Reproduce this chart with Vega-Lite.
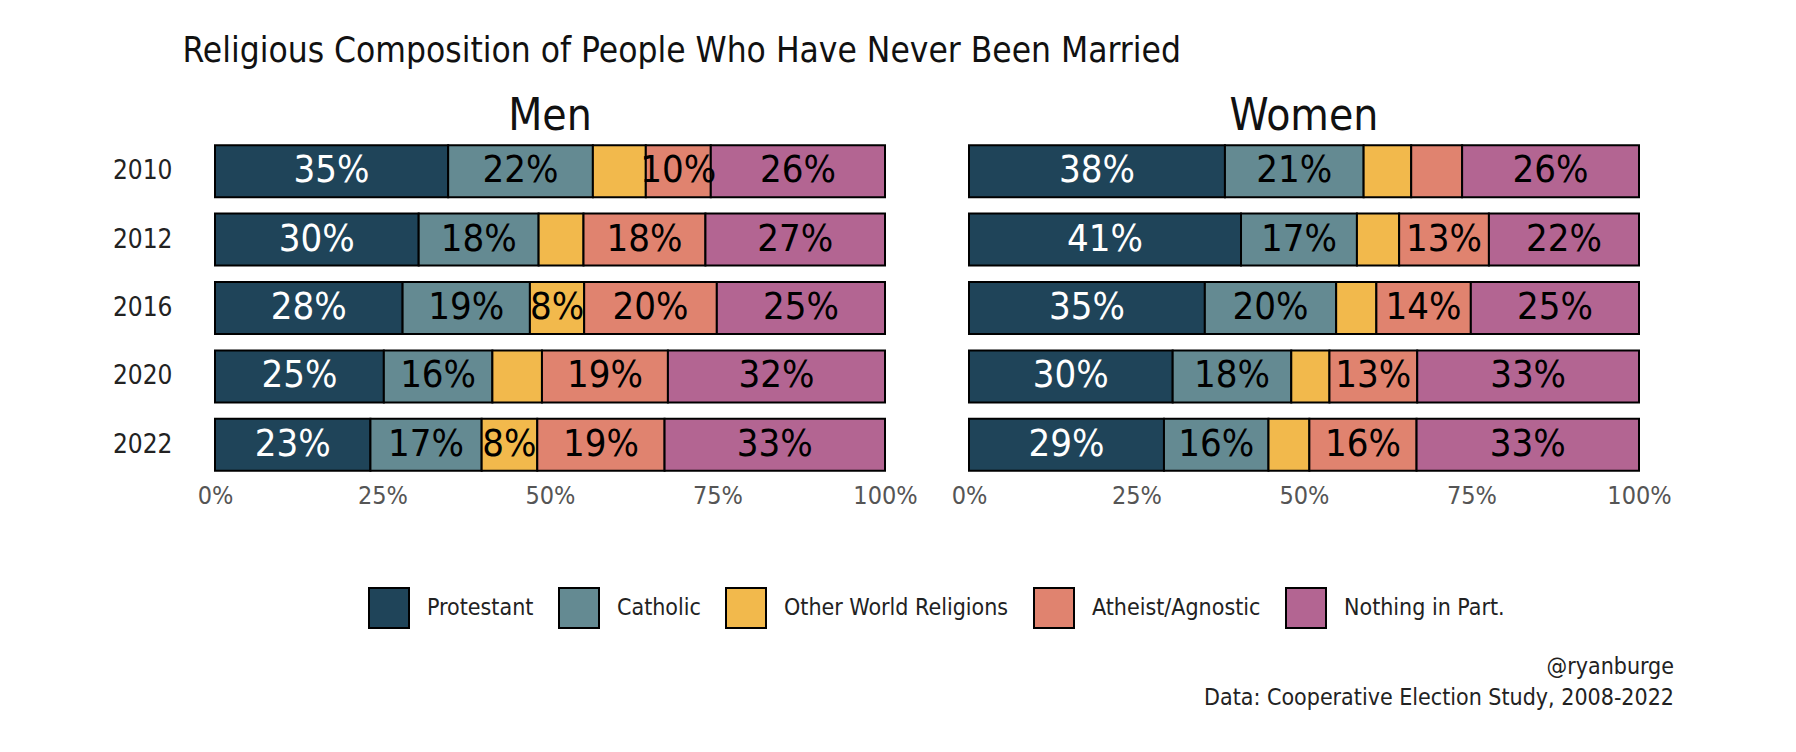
{
  "$schema": "https://vega.github.io/schema/vega-lite/v6.json",
  "background": "white",
  "padding": {"left": 112, "top": 34, "right": 10, "bottom": 10},
  "title": {
    "text": "Religious Composition of People Who Have Never Been Married",
    "anchor": "start",
    "frame": "bounds",
    "dx": 70,
    "fontSize": 35,
    "fontWeight": "normal",
    "color": "#111111",
    "offset": 26
  },
  "vconcat": [
    {
      "data": {
        "values": [
          {"gender": "Men", "year": "2010", "religion": "Protestant", "order": 1, "share": 0.348},
          {"gender": "Men", "year": "2010", "religion": "Catholic", "order": 2, "share": 0.216},
          {"gender": "Men", "year": "2010", "religion": "Other World Religions", "order": 3, "share": 0.079},
          {"gender": "Men", "year": "2010", "religion": "Atheist/Agnostic", "order": 4, "share": 0.097},
          {"gender": "Men", "year": "2010", "religion": "Nothing in Part.", "order": 5, "share": 0.260},
          {"gender": "Men", "year": "2012", "religion": "Protestant", "order": 1, "share": 0.304},
          {"gender": "Men", "year": "2012", "religion": "Catholic", "order": 2, "share": 0.179},
          {"gender": "Men", "year": "2012", "religion": "Other World Religions", "order": 3, "share": 0.067},
          {"gender": "Men", "year": "2012", "religion": "Atheist/Agnostic", "order": 4, "share": 0.182},
          {"gender": "Men", "year": "2012", "religion": "Nothing in Part.", "order": 5, "share": 0.268},
          {"gender": "Men", "year": "2016", "religion": "Protestant", "order": 1, "share": 0.280},
          {"gender": "Men", "year": "2016", "religion": "Catholic", "order": 2, "share": 0.190},
          {"gender": "Men", "year": "2016", "religion": "Other World Religions", "order": 3, "share": 0.081},
          {"gender": "Men", "year": "2016", "religion": "Atheist/Agnostic", "order": 4, "share": 0.198},
          {"gender": "Men", "year": "2016", "religion": "Nothing in Part.", "order": 5, "share": 0.251},
          {"gender": "Men", "year": "2020", "religion": "Protestant", "order": 1, "share": 0.252},
          {"gender": "Men", "year": "2020", "religion": "Catholic", "order": 2, "share": 0.162},
          {"gender": "Men", "year": "2020", "religion": "Other World Religions", "order": 3, "share": 0.074},
          {"gender": "Men", "year": "2020", "religion": "Atheist/Agnostic", "order": 4, "share": 0.188},
          {"gender": "Men", "year": "2020", "religion": "Nothing in Part.", "order": 5, "share": 0.324},
          {"gender": "Men", "year": "2022", "religion": "Protestant", "order": 1, "share": 0.232},
          {"gender": "Men", "year": "2022", "religion": "Catholic", "order": 2, "share": 0.166},
          {"gender": "Men", "year": "2022", "religion": "Other World Religions", "order": 3, "share": 0.083},
          {"gender": "Men", "year": "2022", "religion": "Atheist/Agnostic", "order": 4, "share": 0.190},
          {"gender": "Men", "year": "2022", "religion": "Nothing in Part.", "order": 5, "share": 0.329},
          {"gender": "Women", "year": "2010", "religion": "Protestant", "order": 1, "share": 0.382},
          {"gender": "Women", "year": "2010", "religion": "Catholic", "order": 2, "share": 0.207},
          {"gender": "Women", "year": "2010", "religion": "Other World Religions", "order": 3, "share": 0.071},
          {"gender": "Women", "year": "2010", "religion": "Atheist/Agnostic", "order": 4, "share": 0.076},
          {"gender": "Women", "year": "2010", "religion": "Nothing in Part.", "order": 5, "share": 0.264},
          {"gender": "Women", "year": "2012", "religion": "Protestant", "order": 1, "share": 0.406},
          {"gender": "Women", "year": "2012", "religion": "Catholic", "order": 2, "share": 0.173},
          {"gender": "Women", "year": "2012", "religion": "Other World Religions", "order": 3, "share": 0.063},
          {"gender": "Women", "year": "2012", "religion": "Atheist/Agnostic", "order": 4, "share": 0.134},
          {"gender": "Women", "year": "2012", "religion": "Nothing in Part.", "order": 5, "share": 0.224},
          {"gender": "Women", "year": "2016", "religion": "Protestant", "order": 1, "share": 0.352},
          {"gender": "Women", "year": "2016", "religion": "Catholic", "order": 2, "share": 0.196},
          {"gender": "Women", "year": "2016", "religion": "Other World Religions", "order": 3, "share": 0.060},
          {"gender": "Women", "year": "2016", "religion": "Atheist/Agnostic", "order": 4, "share": 0.141},
          {"gender": "Women", "year": "2016", "religion": "Nothing in Part.", "order": 5, "share": 0.251},
          {"gender": "Women", "year": "2020", "religion": "Protestant", "order": 1, "share": 0.304},
          {"gender": "Women", "year": "2020", "religion": "Catholic", "order": 2, "share": 0.177},
          {"gender": "Women", "year": "2020", "religion": "Other World Religions", "order": 3, "share": 0.057},
          {"gender": "Women", "year": "2020", "religion": "Atheist/Agnostic", "order": 4, "share": 0.131},
          {"gender": "Women", "year": "2020", "religion": "Nothing in Part.", "order": 5, "share": 0.331},
          {"gender": "Women", "year": "2022", "religion": "Protestant", "order": 1, "share": 0.291},
          {"gender": "Women", "year": "2022", "religion": "Catholic", "order": 2, "share": 0.156},
          {"gender": "Women", "year": "2022", "religion": "Other World Religions", "order": 3, "share": 0.061},
          {"gender": "Women", "year": "2022", "religion": "Atheist/Agnostic", "order": 4, "share": 0.160},
          {"gender": "Women", "year": "2022", "religion": "Nothing in Part.", "order": 5, "share": 0.332}
        ]
      },
      "facet": {
        "column": {
          "field": "gender",
          "type": "nominal",
          "sort": ["Men", "Women"],
          "title": null,
          "header": {
            "labelFontSize": 44,
            "labelColor": "#111111",
            "labelPadding": -2
          }
        }
      },
      "spacing": {"column": 82},
      "spec": {
        "width": 670,
        "height": 342,
        "encoding": {
          "y": {
            "field": "year",
            "type": "ordinal",
            "title": null,
            "scale": {"paddingInner": 0.24, "paddingOuter": 0.12},
            "axis": {
              "domain": false,
              "ticks": false,
              "labelFontSize": 26,
              "labelColor": "#222222",
              "labelPadding": 42
            }
          },
          "x": {
            "field": "share",
            "type": "quantitative",
            "stack": "zero",
            "title": null,
            "scale": {"domain": [0, 1], "nice": false},
            "axis": {
              "values": [0, 0.25, 0.5, 0.75, 1],
              "format": ".0%",
              "domain": false,
              "ticks": false,
              "grid": false,
              "labelFlush": false,
              "labelFontSize": 25,
              "labelColor": "#555555",
              "labelPadding": 4
            }
          },
          "order": {"field": "order"}
        },
        "layer": [
          {
            "mark": {"type": "bar", "stroke": "black", "strokeWidth": 2},
            "encoding": {
              "color": {
                "field": "religion",
                "type": "nominal",
                "scale": {
                  "domain": ["Protestant", "Catholic", "Other World Religions", "Atheist/Agnostic", "Nothing in Part."],
                  "range": ["#1f4459", "#648a92", "#f2b94c", "#e0836f", "#b36592"]
                },
                "legend": {
                  "title": null,
                  "orient": "none",
                  "legendX": 153,
                  "legendY": 450,
                  "direction": "horizontal",
                  "symbolType": "square",
                  "symbolSize": 1600,
                  "symbolStrokeColor": "black",
                  "symbolStrokeWidth": 2,
                  "symbolOpacity": 1,
                  "labelFontSize": 23,
                  "labelLimit": 0,
                  "labelColor": "#222222",
                  "labelOffset": 17,
                  "columnPadding": 21
                }
              }
            }
          },
          {
            "mark": {"type": "text", "fontSize": 38, "baseline": "middle", "align": "center"},
            "encoding": {
              "x": {"field": "share", "type": "quantitative", "stack": "zero", "bandPosition": 0.5},
              "detail": {"field": "religion"},
              "text": {
                "field": "share",
                "format": ".0%",
                "condition": {"test": "datum.share < 0.08", "value": ""}
              },
              "color": {
                "condition": {"test": "datum.religion === 'Protestant'", "value": "white"},
                "value": "black"
              }
            }
          }
        ]
      }
    },
    {
      "width": 1459,
      "height": 1,
      "data": {"values": [{"v": 0}]},
      "mark": {"type": "point", "opacity": 0},
      "encoding": {},
      "title": {
        "text": ["@ryanburge", "Data: Cooperative Election Study, 2008-2022"],
        "anchor": "end",
        "fontSize": 23,
        "lineHeight": 31,
        "fontWeight": "normal",
        "color": "#222222",
        "offset": 0
      }
    }
  ],
  "spacing": 23,
  "resolve": {"scale": {"color": "independent"}, "legend": {"color": "independent"}},
  "config": {
    "font": "Liberation Sans Narrow, DejaVu Sans Condensed, sans-serif",
    "view": {"stroke": null}
  }
}
